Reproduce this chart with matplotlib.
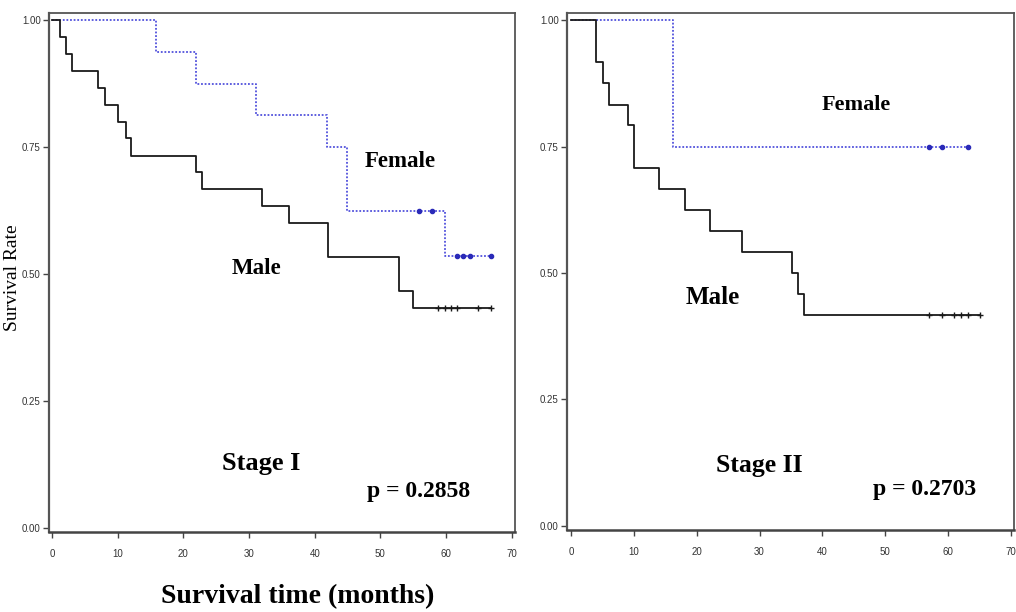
import matplotlib
matplotlib.use("Agg")
import matplotlib.pyplot as plt
import bisect

# ---- Kaplan-Meier estimates (event times in months, survival after each step) ----
# Stage I
s1_male_times = [0, 1.2, 2.1, 3.0, 7.0, 8.1, 10.1, 11.2, 12.0, 22.0, 22.9, 31.9, 36.1, 42.1, 52.8, 54.9]
s1_male_surv = [1.0, 0.967, 0.933, 0.900, 0.867, 0.833, 0.800, 0.767, 0.733, 0.700, 0.667, 0.633, 0.600, 0.533, 0.467, 0.433]
s1_male_censor = [58.8, 59.8, 60.7, 61.7, 64.8, 66.8]

s1_female_times = [0, 15.8, 22.0, 31.0, 41.9, 44.9, 59.8]
s1_female_surv = [1.0, 0.9375, 0.875, 0.8125, 0.750, 0.625, 0.536]
s1_female_censor = [55.9, 57.8, 61.7, 62.6, 63.6, 66.8]

# Stage II
s2_male_times = [0, 4.0, 5.1, 6.1, 9.1, 10.1, 14.0, 18.2, 22.1, 27.2, 35.1, 36.1, 37.1]
s2_male_surv = [1.0, 0.917, 0.875, 0.833, 0.792, 0.708, 0.667, 0.625, 0.583, 0.542, 0.500, 0.458, 0.417]
s2_male_censor = [57.0, 59.0, 61.0, 62.0, 63.1, 65.1]

s2_female_times = [0, 16.2]
s2_female_surv = [1.0, 0.750]
s2_female_censor = [57.0, 59.0, 63.1]

x_ticks = [0, 10, 20, 30, 40, 50, 60, 70]
y_ticks = [0.00, 0.25, 0.50, 0.75, 1.00]
y_tick_labels = ["0.00", "0.25", "0.50", "0.75", "1.00"]

stage_labels = ["Stage I", "Stage II"]
p_values = ["p = 0.2858", "p = 0.2703"]

SERIF = ["Liberation Serif", "DejaVu Serif"]
NARROW = ["Liberation Sans Narrow", "Liberation Sans", "DejaVu Sans"]

MALE_COLOR = "#1a1a1a"
FEMALE_COLOR = "#5252dc"
FEMALE_MARK = "#2a2ab8"


def km_curve(ax, times, surv, censor, color, ls, lw, marker, msize, mcolor, zorder):
    end = max(censor)
    xs = list(times) + [end]
    ys = list(surv) + [surv[-1]]
    line, = ax.step(xs, ys, where="post", color=color, lw=lw, zorder=zorder)
    if ls is not None:
        line.set_dashes(ls)
    cy = [surv[bisect.bisect_right(times, c) - 1] for c in censor]
    ax.plot(censor, cy, linestyle="none", marker=marker, ms=msize,
            color=mcolor, mec=mcolor, mew=1.0, zorder=zorder + 1)


def style_axes(ax, xlim, ylim):
    ax.set_xlim(*xlim)
    ax.set_ylim(*ylim)
    ax.set_xticks(x_ticks)
    ax.set_xticklabels([str(t) for t in x_ticks])
    ax.set_yticks(y_ticks)
    ax.set_yticklabels(y_tick_labels)
    for lab in ax.get_xticklabels() + ax.get_yticklabels():
        lab.set_family(NARROW)
        lab.set_stretch("condensed")
        lab.set_fontsize(7)
        lab.set_color("#333333")
    ax.tick_params(axis="both", direction="out", length=4, width=1.0,
                   color="#444444")
    ax.tick_params(axis="y", pad=2)
    ax.tick_params(axis="x", pad=8)
    ax.spines["left"].set_color("#555555")
    ax.spines["left"].set_linewidth(1.6)
    ax.spines["bottom"].set_color("#444444")
    ax.spines["bottom"].set_linewidth(1.8)
    for s in ("top", "right"):
        ax.spines[s].set_color("#555555")
        ax.spines[s].set_linewidth(1.3)


fig = plt.figure(figsize=(10.16, 6.12), dpi=100)
fig.patch.set_facecolor("white")

ax1 = fig.add_axes([49 / 1016, 1 - 532 / 612, (515 - 49) / 1016, (532 - 13) / 612])
ax2 = fig.add_axes([567 / 1016, 1 - 530 / 612, (1014 - 567) / 1016, (530 - 13) / 612])

# Stage I panel
km_curve(ax1, s1_female_times, s1_female_surv, s1_female_censor, FEMALE_COLOR,
         (1.0, 1.0), 1.3, "o", 3, FEMALE_MARK, 2)
km_curve(ax1, s1_male_times, s1_male_surv, s1_male_censor, MALE_COLOR,
         None, 1.3, "+", 4.5, MALE_COLOR, 3)
style_axes(ax1, (-0.46, 70.5), (-0.008, 1.014))

ax1.text(53.0, 0.711, "Female", family=SERIF, fontsize=16.5, fontweight="bold",
         ha="center", va="baseline")
ax1.text(31.2, 0.501, "Male", family=SERIF, fontsize=16.5, fontweight="bold",
         ha="center", va="baseline")
ax1.text(31.8, 0.114, stage_labels[0], family=SERIF, fontsize=19, fontweight="bold",
         ha="center", va="baseline")
ax1.text(55.8, 0.061, p_values[0], family=SERIF, fontsize=17, fontweight="bold",
         ha="center", va="baseline")

# Stage II panel
km_curve(ax2, s2_female_times, s2_female_surv, s2_female_censor, FEMALE_COLOR,
         (1.0, 1.0), 1.3, "o", 3, FEMALE_MARK, 2)
km_curve(ax2, s2_male_times, s2_male_surv, s2_male_censor, MALE_COLOR,
         None, 1.3, "+", 4.5, MALE_COLOR, 3)
style_axes(ax2, (-0.64, 70.5), (-0.008, 1.014))

ax2.text(45.4, 0.822, "Female", family=SERIF, fontsize=16, fontweight="bold",
         ha="center", va="baseline")
ax2.text(22.5, 0.439, "Male", family=SERIF, fontsize=18, fontweight="bold",
         ha="center", va="baseline")
ax2.text(29.9, 0.107, stage_labels[1], family=SERIF, fontsize=18.5, fontweight="bold",
         ha="center", va="baseline")
ax2.text(56.3, 0.061, p_values[1], family=SERIF, fontsize=17, fontweight="bold",
         ha="center", va="baseline")

# Shared axis titles
fig.text(13 / 1016, 1 - 278 / 612, "Survival Rate", family=SERIF, fontsize=14,
         rotation=90, ha="center", va="center")
fig.text(298 / 1016, 1 - 603 / 612, "Survival time (months)", family=SERIF,
         fontsize=20, fontweight="bold", ha="center", va="baseline")

fig.savefig("out.png", dpi=100, facecolor="white")
